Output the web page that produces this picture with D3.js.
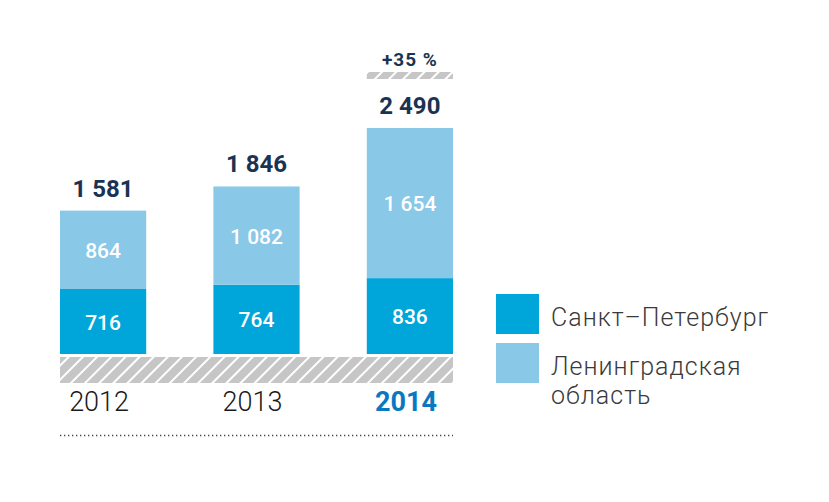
<!DOCTYPE html>
<meta charset="utf-8">
<style>
body { margin: 0; background: #fff; }
svg { font-family: Roboto, "Open Sans", sans-serif; }
.total { font-weight: 700; font-size: 24px; fill: #1b3352; text-anchor: middle; }
.inbar { font-weight: 500; font-size: 21px; fill: #fff; text-anchor: middle; }
.year { font-weight: 300; font-size: 27px; fill: #1a1a1a; text-anchor: middle; }
.year.last { font-weight: 700; fill: #0a78c1; }
.legend text { font-weight: 300; font-size: 25px; letter-spacing: 1px; fill: #3a3a3a; }
</style>
<svg width="829" height="502"></svg>
<script src="https://d3js.org/d3.v7.min.js"></script>
<script>

var years = ["2012", "2013", "2014"],
    spb = [716, 764, 836],
    region = [864, 1082, 1654],
    totals = ["1 581", "1 846", "2 490"],
    regionLabels = ["864", "1 082", "1 654"],
    spbLabels = ["716", "764", "836"],
    growth = "+35 %",
    seriesNames = ["Санкт–Петербург", ["Ленинградская", "область"]],
    colors = ["#00a6d9", "#8ac8e8"];

var svg = d3.select("svg");

var x = d3.scaleBand()
    .domain(years)
    .range([60, 453])
    .paddingInner(0.438)
    .paddingOuter(0);

var y = d3.scaleLinear()
    .domain([0, 2490])
    .range([354, 128]);

// hatch pattern
var defs = svg.append("defs");
var pat = defs.append("pattern")
    .attr("id", "hatch")
    .attr("patternUnits", "userSpaceOnUse")
    .attr("width", 10)
    .attr("height", 10)
    .attr("patternTransform", "rotate(45)");
pat.append("rect").attr("width", 10).attr("height", 10).attr("fill", "#c6c6c6");
pat.append("rect").attr("x", 0).attr("width", 2).attr("height", 10).attr("fill", "#fff");

var data = years.map(function(d, i) {
  return {year: d, spb: spb[i], region: region[i], total: spb[i] + region[i], i: i};
});

var g = svg.append("g");

// Saint Petersburg segments
g.selectAll(".spb")
  .data(data)
  .enter().append("rect")
    .attr("class", "spb")
    .attr("x", function(d) { return x(d.year); })
    .attr("width", x.bandwidth())
    .attr("y", function(d) { return y(d.spb); })
    .attr("height", function(d) { return y(0) - y(d.spb); })
    .attr("fill", colors[0]);

// Leningrad region segments
g.selectAll(".reg")
  .data(data)
  .enter().append("rect")
    .attr("class", "reg")
    .attr("x", function(d) { return x(d.year); })
    .attr("width", x.bandwidth())
    .attr("y", function(d) { return y(d.total); })
    .attr("height", function(d) { return y(d.spb) - y(d.total); })
    .attr("fill", colors[1]);

g.selectAll(".lab-spb")
  .data(data)
  .enter().append("text")
    .attr("class", "inbar")
    .attr("x", function(d) { return x(d.year) + x.bandwidth() / 2; })
    .attr("y", function(d) { return (y(0) + y(d.spb)) / 2 + 8; })
    .text(function(d) { return spbLabels[d.i]; });

g.selectAll(".lab-reg")
  .data(data)
  .enter().append("text")
    .attr("class", "inbar")
    .attr("x", function(d) { return x(d.year) + x.bandwidth() / 2; })
    .attr("y", function(d) { return (y(d.spb) + y(d.total)) / 2 + 8; })
    .text(function(d) { return regionLabels[d.i]; });

g.selectAll(".total")
  .data(data)
  .enter().append("text")
    .attr("class", "total")
    .attr("x", function(d) { return x(d.year) + x.bandwidth() / 2; })
    .attr("y", function(d) { return y(d.total) - 14; })
    .text(function(d) { return totals[d.i]; });

// growth marker above last bar
var last = data[data.length - 1];
g.append("rect")
    .attr("x", x(last.year))
    .attr("y", y(last.total) - 56)
    .attr("width", x.bandwidth())
    .attr("height", 7)
    .attr("fill", "url(#hatch)");
g.append("text")
    .attr("class", "total")
    .style("font-size", "19px")
    .style("letter-spacing", "1px")
    .attr("x", x(last.year) + x.bandwidth() / 2)
    .attr("y", y(last.total) - 62)
    .text(growth);

// hatched baseline band
g.append("rect")
    .attr("x", x.range()[0])
    .attr("y", y(0) + 3)
    .attr("width", x.range()[1] - x.range()[0])
    .attr("height", 26)
    .attr("fill", "url(#hatch)");

// year labels
g.selectAll(".year")
  .data(data)
  .enter().append("text")
    .attr("class", function(d, i) { return i === years.length - 1 ? "year last" : "year"; })
    .attr("x", function(d) { return x(d.year) + x.bandwidth() / 2 - 4; })
    .attr("y", 411)
    .text(function(d) { return d.year; });

// dotted rule
g.append("line")
    .attr("x1", x.range()[0])
    .attr("x2", x.range()[1])
    .attr("y1", 435.5)
    .attr("y2", 435.5)
    .attr("stroke", "#444")
    .attr("stroke-width", 1.3)
    .attr("stroke-dasharray", "1.3,2.7");

// legend
var legend = svg.append("g").attr("class", "legend");
seriesNames.forEach(function(name, i) {
  var ly = 294 + i * 49;
  legend.append("rect")
      .attr("x", 496)
      .attr("y", ly)
      .attr("width", 43)
      .attr("height", 40)
      .attr("fill", colors[i]);
  var lines = Array.isArray(name) ? name : [name];
  lines.forEach(function(line, j) {
    legend.append("text")
        .attr("x", 551)
        .attr("y", ly + 32 + j * 29)
        .text(line);
  });
});

</script>
